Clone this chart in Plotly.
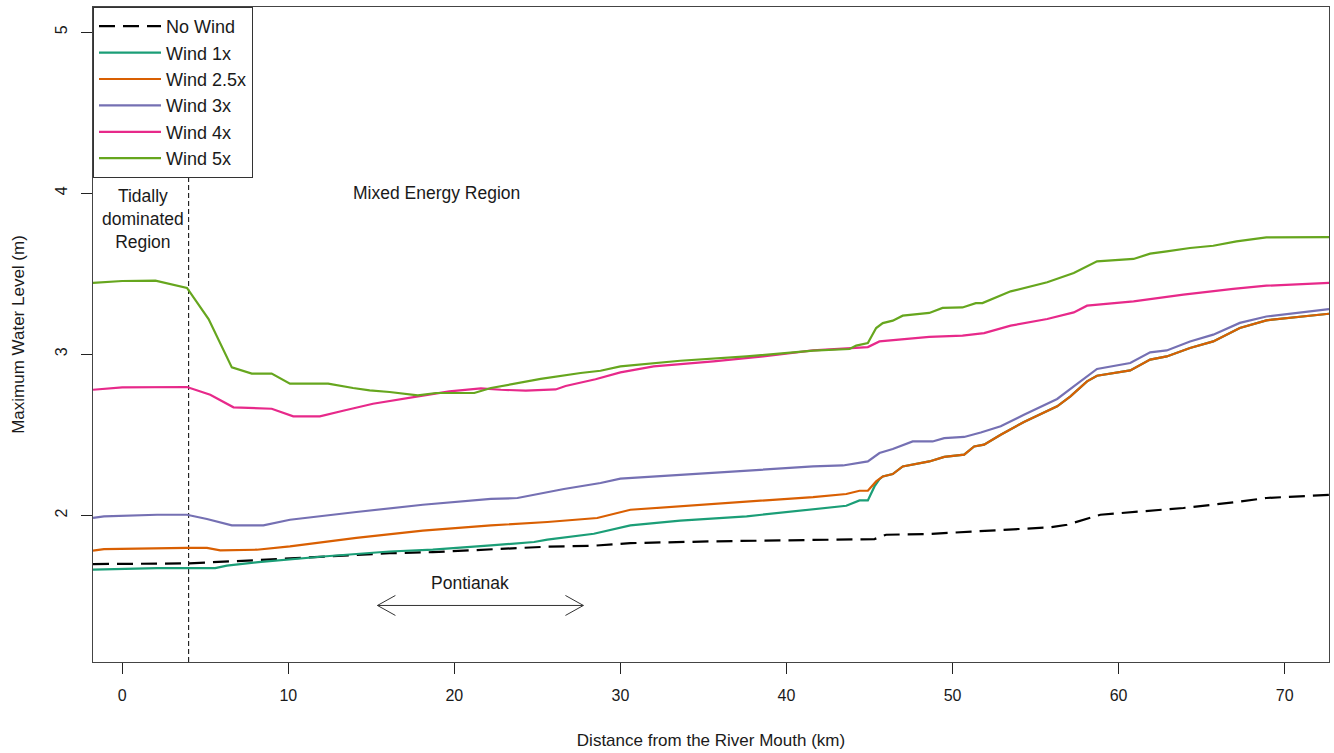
import plotly.graph_objects as go

# ---------------- data ----------------
nowind_x = [-1.76, 3.9, 8.1, 10.7, 16.1, 18.7, 22.2, 25.6, 28.4, 30.6, 35.6, 41.6, 45.3, 46.0,
            48.6, 55.9, 56.9, 58.9, 60.9, 63.9, 66.9, 68.9, 72.67]
nowind_y = [1.698, 1.702, 1.722, 1.735, 1.765, 1.772, 1.789, 1.806, 1.812, 1.828, 1.839, 1.849,
            1.853, 1.880, 1.885, 1.926, 1.942, 2.004, 2.019, 2.046, 2.081, 2.108, 2.128]

wind1_x = [-1.76, 2.1, 5.6, 6.3, 8.2, 12.1, 16.1, 18.7, 22.2, 24.8, 25.6, 28.4, 30.6, 33.6, 37.6,
           41.6, 43.6, 44.4, 44.9, 45.3, 45.6, 45.8, 46.4, 47.0, 48.6, 49.5, 50.7, 51.3, 51.9,
           52.9, 54.3, 56.3, 57.1, 58.1, 58.7, 60.7, 61.9, 62.9, 64.3, 65.7, 67.3, 68.9, 70.9, 72.67]
wind1_y = [1.663, 1.673, 1.673, 1.688, 1.710, 1.745, 1.776, 1.787, 1.814, 1.835, 1.850, 1.886,
           1.938, 1.967, 1.994, 2.035, 2.060, 2.093, 2.093, 2.180, 2.225, 2.242, 2.257, 2.304,
           2.335, 2.363, 2.377, 2.428, 2.439, 2.501, 2.580, 2.677, 2.739, 2.832, 2.867, 2.900,
           2.967, 2.987, 3.039, 3.080, 3.163, 3.211, 3.235, 3.252]

wind25_x = [-1.76, -1.1, 3.9, 5.1, 5.9, 8.1, 10.1, 14.1, 18.1, 22.2, 25.6, 28.6, 30.6, 33.6, 37.6,
            41.6, 43.6, 44.4, 44.9, 45.4, 45.8, 46.4, 47.0, 48.6, 49.5, 50.7, 51.3, 51.9, 52.9,
            54.3, 56.3, 57.1, 58.1, 58.7, 60.7, 61.9, 62.9, 64.3, 65.7, 67.3, 68.9, 70.9, 72.67]
wind25_y = [1.781, 1.791, 1.798, 1.798, 1.783, 1.787, 1.808, 1.860, 1.905, 1.938, 1.959, 1.984,
            2.035, 2.056, 2.083, 2.114, 2.133, 2.153, 2.153, 2.211, 2.242, 2.257, 2.304, 2.335,
            2.363, 2.377, 2.428, 2.439, 2.501, 2.580, 2.677, 2.739, 2.832, 2.867, 2.900, 2.967,
            2.987, 3.039, 3.080, 3.163, 3.211, 3.235, 3.252]

wind3_x = [-1.76, -1.1, 2.1, 3.9, 5.1, 6.6, 8.5, 10.1, 14.1, 18.1, 22.2, 23.8, 26.6, 28.8, 30.0,
           33.6, 37.6, 41.6, 43.4, 44.9, 45.6, 46.4, 47.6, 48.8, 49.5, 50.7, 51.7, 52.9, 54.3,
           56.3, 57.3, 58.7, 60.7, 61.9, 62.9, 64.3, 65.7, 67.3, 68.9, 70.9, 72.67]
wind3_y = [1.984, 1.994, 2.004, 2.004, 1.978, 1.938, 1.938, 1.973, 2.021, 2.066, 2.102, 2.108,
           2.164, 2.201, 2.228, 2.253, 2.279, 2.304, 2.310, 2.335, 2.387, 2.412, 2.459, 2.459,
           2.480, 2.487, 2.515, 2.553, 2.625, 2.723, 2.801, 2.909, 2.946, 3.012, 3.024, 3.080,
           3.122, 3.195, 3.235, 3.260, 3.281]

wind4_x = [-1.76, 0.0, 3.9, 5.3, 6.7, 9.0, 10.3, 11.9, 13.3, 15.1, 18.1, 19.7, 21.6, 22.8, 24.3,
           26.1, 26.7, 28.5, 30.0, 32.0, 35.6, 38.6, 41.6, 43.8, 44.9, 45.6, 47.0, 48.6, 50.6,
           51.9, 53.5, 55.7, 57.3, 58.1, 60.9, 63.9, 66.9, 68.9, 72.67]
wind4_y = [2.780, 2.795, 2.797, 2.749, 2.671, 2.662, 2.615, 2.615, 2.650, 2.693, 2.743, 2.770,
           2.789, 2.780, 2.775, 2.782, 2.803, 2.845, 2.888, 2.925, 2.956, 2.987, 3.024, 3.039,
           3.045, 3.080, 3.091, 3.108, 3.116, 3.132, 3.178, 3.219, 3.260, 3.302, 3.329, 3.370,
           3.406, 3.426, 3.443]

wind5_x = [-1.76, 0.0, 2.0, 3.9, 5.2, 6.6, 7.8, 9.0, 10.1, 12.4, 13.9, 14.9, 16.1, 17.8, 18.9,
           21.2, 22.2, 25.2, 27.6, 28.8, 30.0, 33.6, 37.6, 41.6, 43.8, 44.2, 44.9, 45.4, 45.8,
           46.4, 47.0, 48.6, 49.4, 50.6, 51.4, 51.8, 53.5, 55.7, 57.3, 58.7, 60.9, 61.9, 62.9,
           64.3, 65.7, 67.1, 68.9, 72.67]
wind5_y = [3.443, 3.455, 3.457, 3.412, 3.219, 2.919, 2.880, 2.880, 2.818, 2.818, 2.791, 2.776,
           2.766, 2.745, 2.760, 2.760, 2.791, 2.847, 2.884, 2.898, 2.925, 2.960, 2.987, 3.023,
           3.033, 3.054, 3.070, 3.163, 3.194, 3.209, 3.240, 3.257, 3.288, 3.291, 3.318, 3.318,
           3.391, 3.447, 3.505, 3.577, 3.592, 3.625, 3.639, 3.660, 3.674, 3.701, 3.726, 3.728]

series_names = ["No Wind", "Wind 1x", "Wind 2.5x", "Wind 3x", "Wind 4x", "Wind 5x"]
series_colors = ["#000000", "#1B9E77", "#D95F02", "#7570B3", "#E7298A", "#66A61E"]

x_ticks = [0, 10, 20, 30, 40, 50, 60, 70]
y_ticks = [2, 3, 4, 5]
x_range = [-1.76, 72.67]
y_range = [1.09, 5.156]

region_boundary_km = 4
pontianak_span = [15.37, 27.77]
pontianak_level = 1.441

# ---------------- figure ----------------
FONT = "Liberation Sans, Arial, sans-serif"
TXT = "#1a1a1a"

fig = go.Figure()
xs = [nowind_x, wind1_x, wind25_x, wind3_x, wind4_x, wind5_x]
ys = [nowind_y, wind1_y, wind25_y, wind3_y, wind4_y, wind5_y]
for i, (nm, col) in enumerate(zip(series_names, series_colors)):
    fig.add_trace(go.Scatter(
        x=xs[i], y=ys[i], name=nm, mode="lines",
        line=dict(color=col, width=2.2,
                  dash="16px,8px" if i == 0 else "solid"),
    ))

# region boundary
fig.add_shape(type="line", xref="x", yref="paper",
              x0=region_boundary_km, x1=region_boundary_km, y0=0, y1=1,
              line=dict(color="#000000", width=1, dash="5px,3px"), layer="below")

# Pontianak double arrow (open chevron heads)
a0, a1 = pontianak_span
yy = pontianak_level
dx, dy = 1.08, 0.062
path = (f"M{a0+dx},{yy+dy} L{a0},{yy} L{a0+dx},{yy-dy} "
        f"M{a0},{yy} L{a1},{yy} "
        f"M{a1-dx},{yy+dy} L{a1},{yy} L{a1-dx},{yy-dy}")
fig.add_shape(type="path", path=path, xref="x", yref="y",
              line=dict(color="#333333", width=1))

ann_font = dict(family=FONT, size=17.5, color=TXT)
fig.add_annotation(x=1.25, y=3.840, xref="x", yref="y",
                   text="Tidally<br>dominated<br>Region", showarrow=False,
                   font=ann_font, align="center", xanchor="center", yanchor="middle")
fig.add_annotation(x=18.95, y=4.002, xref="x", yref="y", text="Mixed Energy Region",
                   showarrow=False, font=ann_font, xanchor="center", yanchor="middle")
fig.add_annotation(x=20.95, y=1.580, xref="x", yref="y", text="Pontianak",
                   showarrow=False, font=ann_font, xanchor="center", yanchor="middle")

axis_common = dict(
    showgrid=False, zeroline=False, showline=True, mirror=True,
    linecolor="#444444", linewidth=1.2,
    ticks="outside", ticklen=11, tickwidth=1, tickcolor="#222222",
    tickfont=dict(family=FONT, size=16, color=TXT),
)

fig.update_layout(
    width=1334, height=753,
    margin=dict(l=93, r=5, t=7, b=91),
    paper_bgcolor="white", plot_bgcolor="white",
    font=dict(family=FONT, color=TXT),
    xaxis=dict(range=x_range, tickvals=x_ticks, ticklabelstandoff=8,
               title=dict(text="Distance from the River Mouth (km)",
                          font=dict(family=FONT, size=17, color=TXT), standoff=30),
               **axis_common),
    yaxis=dict(range=y_range, tickvals=y_ticks, tickangle=-90, ticklabelstandoff=8,
               title=dict(text="Maximum Water Level (m)",
                          font=dict(family=FONT, size=17, color=TXT), standoff=23),
               **axis_common),
    legend=dict(x=0, y=1, xanchor="left", yanchor="top",
                bgcolor="white", bordercolor="#333333", borderwidth=1,
                font=dict(family=FONT, size=18, color=TXT),
                itemwidth=62, tracegroupgap=0),
    showlegend=True,
)

fig.write_html("out.html", config={"displayModeBar": False},
               post_script="document.body.style.margin='0px';")
